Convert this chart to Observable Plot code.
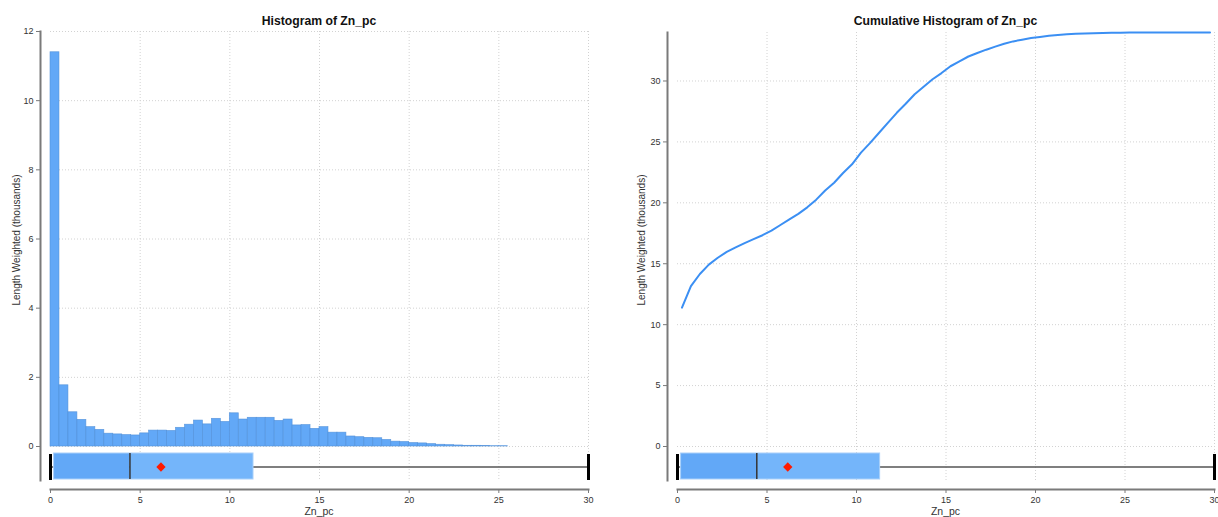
<!DOCTYPE html>
<html><head><meta charset="utf-8">
<script src="https://cdn.jsdelivr.net/npm/d3@7"></script>
<script src="https://cdn.jsdelivr.net/npm/@observablehq/plot@0.6"></script>
<style>
body{margin:0;background:#fff;font-family:"Liberation Sans",Arial,sans-serif;}
#wrap{position:relative;width:1218px;height:517px;overflow:hidden;background:#fff;}
.panel{position:absolute;top:0;width:609px;height:517px;}
.panel svg{position:absolute;left:0;top:0;}
.title{position:absolute;top:14px;font-weight:bold;font-size:12.2px;line-height:14px;color:#111;transform:translateX(-50%);white-space:nowrap;}
.ylab{position:absolute;font-size:10px;line-height:11px;color:#333;transform:translate(-50%,-50%) rotate(-90deg);white-space:nowrap;}
.xlab{position:absolute;top:506px;font-size:10.5px;line-height:11px;color:#333;transform:translateX(-50%);white-space:nowrap;}
</style>
</head><body>
<div id="wrap"></div>
<script>
// ---- data (thousands, length weighted) ----
const binWidth = 0.5;
const histValues = [
  11.40, 1.77, 0.99, 0.77, 0.56, 0.48, 0.37, 0.35, 0.33, 0.32,
  0.38, 0.46, 0.46, 0.45, 0.54, 0.63, 0.75, 0.64, 0.80, 0.71,
  0.96, 0.78, 0.83, 0.83, 0.83, 0.74, 0.78, 0.61, 0.62, 0.51,
  0.56, 0.40, 0.40, 0.29, 0.27, 0.25, 0.24, 0.19, 0.14, 0.13,
  0.10, 0.09, 0.07, 0.05, 0.04, 0.03, 0.02, 0.02, 0.015, 0.01,
  0.01, 0, 0, 0, 0, 0, 0, 0, 0, 0
];
const cumValues = [
  11.40, 13.17, 14.16, 14.93, 15.49, 15.97, 16.34, 16.69, 17.02, 17.34,
  17.72, 18.18, 18.64, 19.09, 19.63, 20.26, 21.01, 21.65, 22.45, 23.16,
  24.12, 24.90, 25.73, 26.56, 27.39, 28.13, 28.91, 29.52, 30.14, 30.65,
  31.21, 31.61, 32.01, 32.30, 32.57, 32.82, 33.06, 33.25, 33.39, 33.52,
  33.62, 33.71, 33.78, 33.83, 33.87, 33.90, 33.92, 33.94, 33.955, 33.965,
  33.975, 33.98, 33.98, 33.98, 33.98, 33.98, 33.98, 33.98, 33.98, 33.98
];
const boxLabels = ["min", "q1", "median", "q3", "max", "mean"];
const boxValues = [0, 0.2, 4.43, 11.32, 30, 6.16];
const xTicks = [0, 5, 10, 15, 20, 25, 30];
const xGrid = [5, 10, 15, 20, 25, 30];
const leftYTicks = [0, 2, 4, 6, 8, 10, 12];
const rightYTicks = [0, 5, 10, 15, 20, 25, 30];
const titles = ["Histogram of Zn_pc", "Cumulative Histogram of Zn_pc"];
const xLabel = "Zn_pc";
const yLabel = "Length Weighted (thousands)";

const box = Object.fromEntries(boxLabels.map((k, i) => [k, boxValues[i]]));
const histData = histValues.map((v, i) => ({x0: i * binWidth, x1: (i + 1) * binWidth, v})).filter(d => d.v > 0);
const cumData = cumValues.map((c, i) => ({x: (i + 0.5) * binWidth, c}));

const BAR = "#62a8f7", BAR2 = "#74b5fa";
const GRID = "#d2d2d2";
const W = 609, H = 517, MT_BOTTOM = 37;

function makePanel({marginLeft, marginRight, marginTop, yMax, yTicks, mainMarks}) {
  const plotH = H - marginTop - MT_BOTTOM;
  const zeroPx = 446 - marginTop;
  const unit = zeroPx / yMax;
  const yMin = -(plotH - zeroPx) / unit;
  const py = p => -p / unit;
  const wy = py(20.5);
  const boxMarks = [
    Plot.ruleY([{y: wy, x1: box.min, x2: box.max}], {y: "y", x1: "x1", x2: "x2", stroke: "#555", strokeWidth: 1.5}),
    Plot.rect([{x1: box.q1, x2: box.median, y1: py(7), y2: py(33)}], {x1: "x1", x2: "x2", y1: "y1", y2: "y2", fill: BAR}),
    Plot.rect([{x1: box.median, x2: box.q3, y1: py(7), y2: py(33)}], {x1: "x1", x2: "x2", y1: "y1", y2: "y2", fill: BAR2}),
    Plot.rect([{x1: box.q1, x2: box.q3, y1: py(7), y2: py(33)}], {x1: "x1", x2: "x2", y1: "y1", y2: "y2", fill: "none", stroke: "#a9d0fa", strokeWidth: 1}),
    Plot.ruleX([{x: box.median, y1: py(7), y2: py(33)}], {x: "x", y1: "y1", y2: "y2", stroke: "#333", strokeWidth: 1.5}),
    Plot.ruleX([{x: box.min, y1: py(8), y2: py(34)}, {x: box.max, y1: py(8), y2: py(34)}], {x: "x", y1: "y1", y2: "y2", stroke: "#000", strokeWidth: 3}),
    Plot.dot([{x: box.mean, y: wy}], {x: "x", y: "y", symbol: "diamond2", fill: "#ff1a00", stroke: null, r: 4.2})
  ];
  return Plot.plot({
    width: W, height: H,
    marginLeft, marginRight, marginTop, marginBottom: MT_BOTTOM,
    style: {fontFamily: "'Liberation Sans', Arial, sans-serif", fontSize: "9px", color: "#333", background: "transparent", overflow: "visible"},
    x: {domain: [0, 30], axis: null},
    y: {domain: [yMin, yMax], axis: null},
    marks: [
      Plot.gridX(xGrid, {stroke: GRID, strokeOpacity: 1, strokeDasharray: "1,2", strokeWidth: 1}),
      Plot.gridY(yTicks, {stroke: GRID, strokeOpacity: 1, strokeDasharray: "1,2", strokeWidth: 1}),
      ...mainMarks,
      ...boxMarks,
      Plot.frame({anchor: "left", dx: -10, stroke: "#7a7a7a", strokeWidth: 2}),
      Plot.frame({anchor: "bottom", dy: 9, stroke: "#7a7a7a", strokeWidth: 2}),
      Plot.axisY(yTicks, {anchor: "left", dx: -10, tickSize: 4, tickPadding: 3, stroke: "#7a7a7a", fill: "#333", label: null, tickFormat: d => String(d)}),
      Plot.axisX(xTicks, {anchor: "bottom", dy: 9, tickSize: 4, tickPadding: 3, stroke: "#7a7a7a", fill: "#333", label: null, tickFormat: d => String(d)})
    ]
  });
}

const left = makePanel({
  marginLeft: 50, marginRight: 21, marginTop: 31, yMax: 12, yTicks: leftYTicks,
  mainMarks: [
    Plot.rectY(histData, {x1: "x0", x2: "x1", y: "v", fill: BAR, stroke: "#4f8fd8", strokeWidth: 0.7, strokeOpacity: 0.8})
  ]
});
const right = makePanel({
  marginLeft: 68, marginRight: 4, marginTop: 32, yMax: 33.98, yTicks: rightYTicks,
  mainMarks: [
    Plot.line(cumData, {x: "x", y: "c", stroke: "#3b8ff3", strokeWidth: 2})
  ]
});

const wrap = document.getElementById("wrap");
function addPanel(svg, offset, cx, ylx, title) {
  const p = document.createElement("div");
  p.className = "panel";
  p.style.left = offset + "px";
  p.appendChild(svg);
  const t = document.createElement("div");
  t.className = "title"; t.textContent = title; t.style.left = cx + "px";
  const yl = document.createElement("div");
  yl.className = "ylab"; yl.textContent = yLabel; yl.style.left = ylx + "px"; yl.style.top = "240px";
  const xl = document.createElement("div");
  xl.className = "xlab"; xl.textContent = xLabel; xl.style.left = cx + "px";
  p.appendChild(t); p.appendChild(yl); p.appendChild(xl);
  wrap.appendChild(p);
}
addPanel(left, 0, 319, 16, titles[0]);
addPanel(right, 609, 336.5, 32, titles[1]);
</script>
</body></html>
